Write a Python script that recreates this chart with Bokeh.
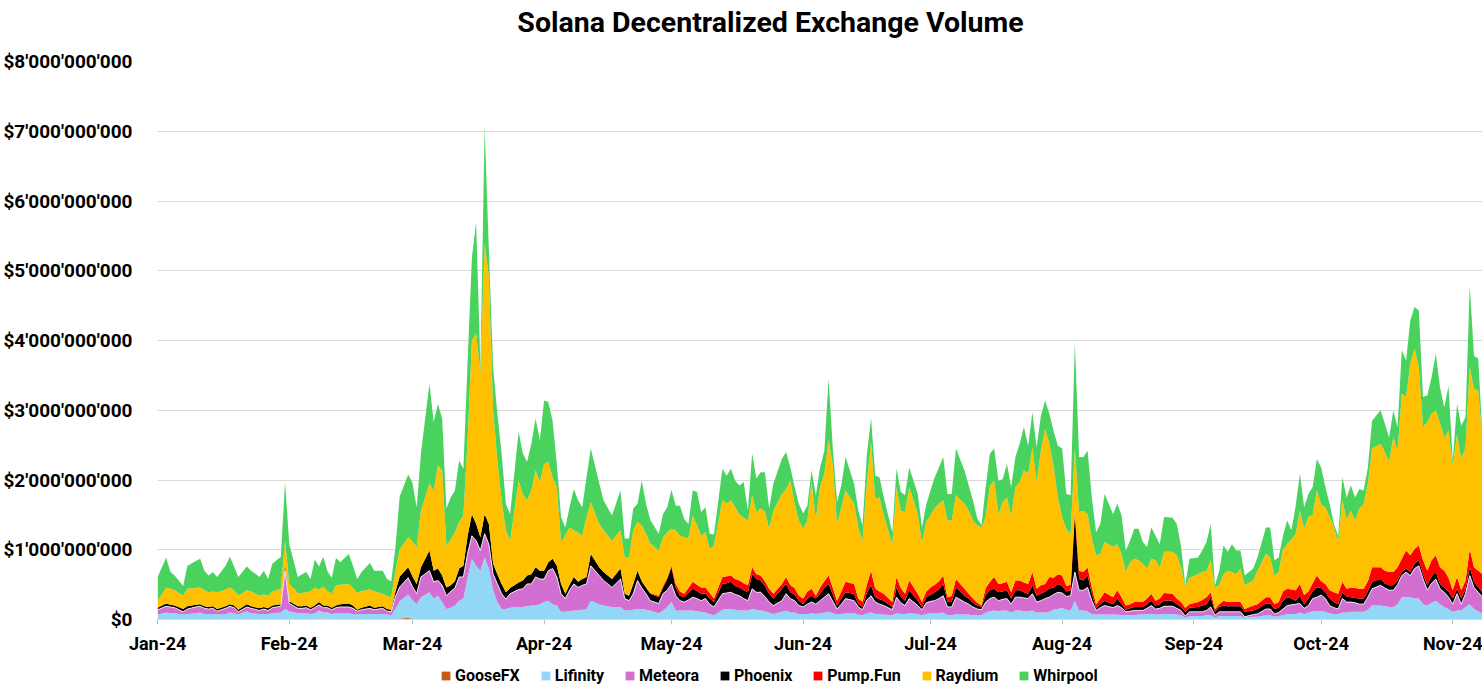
from datetime import datetime, timedelta
from bokeh.plotting import figure
from bokeh.layouts import column
from bokeh.models import (ColumnDataSource, Range1d, Legend, LegendItem, CustomJSTickFormatter,
                          DatetimeTickFormatter, FixedTicker, Label)
from bokeh.transform import stack
from bokeh.embed import file_html
from bokeh.resources import INLINE

TITLE = "Solana Decentralized Exchange Volume"
series_names = ["GooseFX", "Lifinity", "Meteora", "Phoenix", "Pump.Fun", "Raydium", "Whirpool"]
series_keys = ["goosefx", "lifinity", "meteora", "phoenix", "pumpfun", "raydium", "whirpool"]
series_colors = ["#C55A11", "#92D8F6", "#D36FD1", "#000000", "#FF0000", "#FFC000", "#4AD25E"]
y_ticks_bn = [0, 1, 2, 3, 4, 5, 6, 7, 8]
x_tick_months = [1, 2, 3, 4, 5, 6, 7, 8, 9, 10, 11]

# day offset from 2024-01-01
day = [0, 2, 3, 4, 6, 7, 9, 10, 11, 12,
       13, 14, 16, 17, 18, 19, 21, 22, 24, 25,
       26, 27, 29, 30, 31, 33, 34, 35, 36, 37,
       38, 39, 40, 41, 42, 43, 45, 46, 47, 48,
       50, 51, 53, 54, 55, 56, 57, 59, 60, 61,
       62, 64, 65, 66, 67, 68, 69, 70, 71, 72,
       73, 74, 75, 76, 77, 78, 79, 80, 81, 82,
       83, 85, 86, 87, 88, 89, 90, 91, 92, 93,
       94, 95, 96, 97, 98, 99, 100, 101, 102, 104,
       105, 107, 109, 110, 111, 112, 113, 114, 115, 116,
       118, 119, 120, 121, 122, 123, 124, 125, 126, 127,
       128, 129, 130, 131, 133, 134, 135, 136, 137, 138,
       139, 140, 141, 142, 143, 144, 145, 147, 148, 149,
       150, 151, 152, 153, 154, 155, 156, 157, 158, 159,
       160, 161, 162, 164, 165, 166, 167, 168, 169, 170,
       171, 173, 174, 175, 176, 177, 179, 180, 181, 182,
       183, 184, 185, 186, 187, 188, 190, 191, 192, 193,
       194, 195, 196, 197, 198, 199, 200, 201, 202, 203,
       204, 205, 206, 207, 208, 209, 210, 211, 212, 213,
       214, 215, 216, 217, 218, 219, 220, 221, 222, 223,
       225, 226, 227, 228, 229, 230, 231, 232, 233, 234,
       235, 236, 237, 239, 240, 241, 242, 243, 245, 246,
       247, 248, 249, 250, 251, 252, 253, 254, 255, 256,
       258, 259, 261, 262, 263, 264, 265, 266, 267, 268,
       269, 270, 271, 272, 273, 274, 275, 276, 277, 278,
       279, 280, 281, 282, 283, 284, 285, 286, 288, 289,
       290, 291, 292, 293, 294, 295, 296, 297, 298, 299,
       300, 301, 302, 303, 304, 305, 306, 307, 308, 309,
       310, 311, 312]

# daily volumes, billions of USD
goosefx = [0, 0, 0, 0, 0, 0, 0, 0, 0, 0,
           0, 0, 0, 0, 0, 0, 0, 0, 0, 0,
           0, 0, 0, 0, 0, 0, 0, 0, 0, 0,
           .01, .01, .01, 0, 0, 0, 0, 0, 0, 0,
           0, 0, 0, 0, 0, 0, .015, .02, .01, 0,
           0, 0, 0, 0, 0, 0, 0, 0, 0, 0,
           0, 0, 0, 0, 0, 0, 0, 0, 0, 0,
           0, 0, 0, 0, 0, 0, 0, 0, 0, 0,
           0, 0, 0, 0, 0, 0, 0, 0, 0, 0,
           0, 0, 0, 0, 0, 0, 0, 0, 0, 0,
           0, 0, 0, 0, 0, 0, 0, 0, 0, 0,
           0, 0, 0, 0, 0, 0, 0, 0, 0, 0,
           0, 0, 0, 0, 0, 0, 0, 0, 0, 0,
           0, 0, 0, 0, 0, 0, 0, 0, 0, 0,
           0, 0, 0, 0, 0, 0, 0, 0, 0, 0,
           0, 0, 0, 0, 0, 0, 0, 0, 0, 0,
           0, 0, 0, 0, 0, 0, 0, 0, 0, 0,
           0, 0, 0, 0, 0, 0, 0, 0, 0, 0,
           0, 0, 0, 0, 0, 0, 0, 0, 0, 0,
           0, 0, 0, 0, 0, 0, 0, 0, 0, 0,
           0, 0, 0, 0, 0, 0, 0, 0, 0, 0,
           0, 0, 0, 0, 0, 0, 0, 0, 0, 0,
           0, 0, 0, 0, 0, 0, 0, 0, 0, 0,
           0, 0, 0, 0, 0, 0, 0, 0, 0, 0,
           0, 0, 0, 0, 0, 0, 0, 0, 0, 0,
           0, 0, 0, 0, 0, 0, 0, 0, 0, 0,
           0, 0, 0, 0, 0, 0, 0, 0, 0, 0,
           0, 0, 0, 0, 0, 0, 0, 0, 0, 0,
           0, 0, 0]

lifinity = [.07, .10, .09, .09, .07, .08, .09, .10, .08, .08,
            .08, .07, .08, .10, .09, .07, .12, .09, .08, .08,
            .08, .09, .10, .15, .12, .09, .09, .09, .08, .09,
            .12, .09, .09, .08, .09, .09, .09, .08, .07, .08,
            .08, .08, .08, .07, .06, .15, .25, .34, .27, .22,
            .32, .39, .30, .34, .25, .15, .17, .20, .27, .30,
            .60, .87, .77, .70, .89, .73, .42, .25, .15, .15,
            .17, .18, .18, .19, .20, .20, .22, .25, .27, .22,
            .20, .11, .11, .12, .13, .13, .14, .15, .27, .22,
            .20, .18, .18, .13, .13, .14, .15, .15, .14, .13,
            .09, .13, .18, .25, .13, .13, .13, .13, .13, .12,
            .11, .10, .08, .06, .14, .15, .15, .14, .13, .13,
            .13, .15, .14, .13, .12, .10, .08, .11, .13, .10,
            .10, .08, .08, .08, .09, .08, .09, .10, .11, .09,
            .07, .08, .09, .09, .07, .06, .09, .10, .08, .08,
            .07, .06, .09, .08, .08, .09, .08, .06, .08, .09,
            .09, .09, .10, .06, .06, .08, .07, .07, .06, .06,
            .06, .10, .12, .13, .12, .13, .13, .10, .13, .13,
            .12, .12, .13, .10, .10, .10, .11, .14, .15, .17,
            .14, .13, .27, .13, .13, .12, .08, .07, .07, .07,
            .07, .07, .06, .06, .06, .06, .07, .07, .08, .08,
            .07, .07, .08, .08, .07, .06, .03, .05, .05, .05,
            .06, .06, .03, .05, .05, .05, .05, .05, .05, .03,
            .04, .04, .06, .06, .04, .05, .06, .08, .08, .08,
            .10, .08, .10, .12, .12, .12, .11, .09, .08, .08,
            .10, .10, .11, .11, .11, .11, .14, .20, .20, .19,
            .18, .18, .22, .32, .32, .32, .30, .30, .22, .20,
            .24, .27, .22, .18, .15, .11, .13, .13, .18, .22,
            .15, .12, .08]

meteora = [.07, .09, .09, .08, .04, .07, .09, .09, .08, .07,
           .08, .05, .08, .09, .08, .04, .06, .07, .05, .07,
           .05, .08, .09, .55, .11, .07, .07, .08, .06, .08,
           .08, .07, .07, .06, .08, .09, .09, .08, .05, .06,
           .08, .06, .08, .05, .05, .18, .20, .24, .19, .15,
           .29, .31, .24, .22, .24, .19, .23, .25, .34, .31,
           .35, .33, .36, .29, .34, .35, .23, .26, .22, .14,
           .20, .25, .26, .32, .31, .41, .36, .33, .43, .51,
           .41, .26, .19, .30, .38, .33, .35, .36, .50, .41,
           .36, .28, .40, .17, .14, .23, .41, .30, .23, .14,
           .14, .24, .24, .26, .21, .14, .12, .15, .19, .18,
           .16, .20, .14, .12, .23, .23, .24, .22, .21, .17,
           .14, .29, .25, .26, .21, .15, .12, .16, .24, .20,
           .17, .12, .10, .14, .16, .14, .18, .22, .26, .17,
           .08, .14, .21, .18, .11, .08, .19, .24, .17, .14,
           .13, .08, .23, .16, .12, .21, .12, .08, .16, .17,
           .18, .21, .24, .12, .12, .24, .18, .15, .12, .09,
           .08, .15, .18, .19, .15, .16, .17, .12, .19, .19,
           .19, .18, .24, .15, .17, .20, .21, .22, .24, .21,
           .19, .21, .41, .29, .29, .34, .19, .06, .10, .13,
           .10, .13, .11, .05, .06, .07, .06, .06, .08, .12,
           .08, .09, .11, .11, .09, .07, .02, .06, .06, .06,
           .07, .12, .03, .06, .06, .06, .06, .06, .06, .01,
           .03, .04, .09, .09, .04, .05, .09, .12, .13, .14,
           .13, .08, .10, .18, .20, .23, .19, .11, .09, .07,
           .20, .15, .14, .13, .11, .11, .18, .24, .29, .26,
           .24, .24, .28, .31, .36, .31, .43, .47, .36, .22,
           .28, .31, .22, .21, .17, .11, .24, .09, .19, .41,
           .31, .27, .24]

phoenix = [.03, .04, .03, .03, .04, .04, .03, .03, .03, .03,
           .03, .03, .03, .03, .03, .03, .04, .03, .03, .03,
           .03, .03, .03, .06, .03, .03, .03, .03, .03, .03,
           .04, .03, .03, .03, .03, .04, .05, .04, .02, .03,
           .04, .03, .03, .03, .03, .07, .15, .15, .15, .14,
           .14, .29, .16, .17, .14, .12, .09, .10, .12, .16,
           .25, .31, .24, .19, .28, .29, .15, .14, .14, .10,
           .08, .10, .12, .12, .14, .14, .12, .12, .12, .14,
           .16, .14, .07, .08, .10, .08, .09, .10, .17, .12,
           .12, .12, .15, .07, .07, .14, .14, .10, .09, .10,
           .09, .08, .16, .24, .12, .07, .07, .10, .12, .11,
           .10, .07, .08, .07, .14, .14, .15, .12, .12, .12,
           .12, .21, .19, .17, .15, .12, .10, .17, .14, .09,
           .09, .07, .04, .08, .09, .08, .10, .13, .14, .10,
           .05, .08, .09, .10, .04, .04, .10, .15, .07, .07,
           .07, .04, .14, .09, .07, .12, .07, .04, .08, .09,
           .12, .13, .17, .07, .07, .14, .09, .08, .06, .05,
           .04, .10, .12, .12, .12, .11, .12, .08, .10, .10,
           .08, .07, .12, .09, .10, .10, .12, .10, .12, .10,
           .07, .08, .83, .16, .14, .17, .10, .04, .05, .07,
           .05, .10, .05, .03, .04, .05, .05, .05, .06, .07,
           .05, .06, .08, .08, .06, .05, .06, .06, .07, .09,
           .09, .14, .05, .07, .09, .08, .08, .08, .08, .07,
           .06, .07, .08, .08, .07, .07, .12, .12, .09, .05,
           .11, .06, .10, .10, .14, .10, .09, .10, .08, .07,
           .09, .08, .07, .07, .08, .08, .08, .10, .09, .07,
           .07, .07, .06, .05, .05, .05, .07, .08, .07, .07,
           .10, .10, .07, .07, .08, .08, .07, .08, .07, .12,
           .08, .07, .07]

pumpfun = [0, 0, 0, 0, 0, 0, 0, 0, 0, 0,
           0, 0, 0, 0, 0, 0, 0, 0, 0, 0,
           0, 0, 0, .04, 0, 0, 0, 0, 0, 0,
           0, 0, 0, 0, 0, 0, 0, 0, 0, 0,
           0, 0, 0, 0, 0, 0, 0, 0, 0, 0,
           0, 0, 0, 0, 0, 0, 0, 0, 0, 0,
           0, 0, 0, 0, 0, 0, 0, 0, 0, 0,
           0, 0, 0, 0, 0, 0, 0, 0, 0, 0,
           0, 0, 0, 0, 0, 0, 0, 0, 0, 0,
           0, 0, 0, 0, 0, 0, 0, 0, 0, .01,
           .02, .03, .02, .02, .05, .06, .05, .07, .10, .09,
           .09, .09, .08, .05, .10, .10, .09, .10, .10, .10,
           .10, .10, .07, .07, .07, .07, .07, .07, .10, .10,
           .09, .07, .08, .10, .10, .04, .09, .10, .12, .09,
           .07, .10, .15, .14, .08, .07, .12, .21, .12, .11,
           .10, .07, .15, .12, .10, .14, .10, .07, .08, .11,
           .11, .12, .12, .07, .09, .12, .10, .07, .06, .04,
           .02, .10, .12, .17, .12, .12, .12, .09, .14, .14,
           .14, .14, .19, .10, .12, .11, .17, .14, .14, .15,
           .08, .08, .03, .12, .12, .12, .09, .05, .08, .12,
           .10, .12, .10, .06, .06, .07, .07, .07, .08, .10,
           .07, .08, .11, .10, .08, .07, .06, .05, .07, .08,
           .10, .07, .04, .04, .07, .06, .06, .06, .06, .04,
           .07, .07, .09, .09, .07, .08, .13, .12, .13, .15,
           .17, .13, .10, .12, .17, .10, .12, .12, .14, .15,
           .15, .11, .14, .14, .14, .14, .15, .21, .17, .18,
           .19, .19, .19, .19, .26, .24, .21, .21, .20, .21,
           .23, .24, .24, .24, .20, .12, .17, .12, .12, .26,
           .21, .24, .26]

raydium = [.10, .23, .23, .22, .19, .25, .24, .24, .23, .21,
           .21, .24, .24, .24, .22, .20, .20, .21, .18, .18,
           .18, .20, .22, .33, .25, .19, .19, .19, .23, .26,
           .18, .27, .21, .20, .29, .28, .28, .25, .24, .24,
           .23, .23, .18, .19, .18, .30, .39, .43, .50, .53,
           .81, .96, 1.15, 1.48, 1.51, .60, .66, .70, .67, .72,
           1.40, 2.49, 2.73, 2.37, 3.88, 3.54, 2.20, 1.63, 1.20, .89,
           .68, 1.46, 1.24, 1.08, 1.20, 1.39, 1.27, 1.53, 1.44, 1.17,
           1.13, .60, .83, .82, .67, .71, .62, .86, .74, .62,
           .60, .55, .55, .52, .55, .77, .70, .80, .77, .71,
           .65, .70, .65, .53, .77, .80, .81, .71, .95, .85,
           .74, .79, .63, .76, 1.10, 1.04, 1.08, 1.03, .95, .94,
           .93, 1.03, .89, .96, 1.00, .86, 1.19, 1.29, 1.26, 1.50,
           1.21, 1.08, 1.00, 1.02, 1.53, 1.10, 1.44, 1.54, 1.94, 1.76,
           1.10, 1.21, 1.31, 1.15, 1.02, .88, 1.45, 1.84, 1.29, 1.35,
           1.12, .83, 1.29, 1.11, 1.17, 1.34, 1.14, .85, 1.00, 1.03,
           1.10, 1.11, 1.08, 1.10, 1.08, 1.20, 1.22, 1.19, 1.12, 1.11,
           1.12, 1.02, 1.38, 1.38, 1.00, 1.16, 1.21, 1.10, 1.34, 1.41,
           1.61, 1.58, 1.79, 1.53, 1.93, 2.22, 1.91, 1.60, 1.10, .84,
           .82, .73, .91, .84, .88, .76, .70, .70, .64, .72,
           .72, .66, .62, .48, .60, .62, .60, .55, .43, .50,
           .58, .45, .59, .60, .62, .50, .30, .38, .40, .40,
           .38, .46, .31, .27, .38, .45, .43, .40, .48, .34,
           .36, .48, .62, .57, .41, .43, .60, .64, .72, .81,
           1.05, .95, 1.07, .98, 1.22, 1.10, 1.10, 1.05, .93, .75,
           1.17, 1.00, 1.10, .97, 1.15, 1.21, 1.40, 1.70, 1.77, 1.70,
           1.58, 1.93, 1.67, 2.37, 2.20, 2.75, 2.87, 2.56, 1.91, 2.13,
           2.10, 2.08, 2.06, 1.91, 2.11, 1.78, 2.05, 1.88, 1.91, 2.61,
           2.56, 2.58, 1.90]

whirpool = [.34, .43, .24, .21, .14, .33, .39, .41, .28, .24,
            .28, .22, .34, .44, .34, .27, .34, .30, .27, .34,
            .24, .40, .46, .84, .57, .23, .27, .29, .18, .40,
            .33, .43, .28, .23, .39, .32, .43, .32, .20, .27,
            .38, .30, .33, .24, .23, .34, .76, .90, .84, .57,
            .82, 1.43, .98, .88, .74, .53, .60, .60, .88, .67,
            1.11, 1.19, 1.60, .07, 1.67, .38, .62, .67, .67, .38,
            .38, .70, .58, .55, .67, .74, .60, .91, .86, .81,
            .33, .36, .12, .29, .59, .46, .41, .57, .77, .58,
            .43, .36, .57, .27, .27, .31, .26, .64, .43, .34,
            .24, .33, .36, .56, .35, .43, .26, .21, .36, .48,
            .34, .36, .22, .16, .45, .40, .45, .38, .41, .51,
            .14, .60, .48, .52, .56, .29, .39, .50, .53, .19,
            .24, .24, .22, .21, .17, .34, .28, .33, .88, .24,
            .31, .31, .48, .29, .24, .22, .40, .35, .33, .29,
            .26, .17, .26, .27, .24, .28, .29, .22, .25, .36,
            .44, .52, .62, .38, .38, .67, .48, .36, .29, .10,
            .03, .43, .46, .46, .48, .33, .48, .41, .43, .55,
            .62, .40, .50, .50, .50, .41, .43, .50, .74, .98,
            .50, .55, 1.53, .79, .77, .91, .59, .33, .43, .69,
            .47, .58, .55, .31, .31, .43, .45, .31, .31, .45,
            .35, .33, .50, .49, .45, .30, .03, .27, .24, .31,
            .41, .52, .03, .21, .41, .27, .40, .34, .26, .14,
            .17, .19, .38, .43, .22, .21, .20, .34, .13, .40,
            .53, .31, .33, .40, .45, .53, .29, .19, .05, .08,
            .33, .31, .36, .33, .28, .20, .23, .40, .48, .41,
            .35, .39, .34, .62, .52, .62, .60, .81, .43, .38,
            .52, .81, .52, .43, .64, .08, .43, .48, .43, 1.17,
            .47, .46, .06]

BN = 1e9
start = datetime(2024, 1, 1)
data = {"date": [start + timedelta(days=d) for d in day]}
for k, vals in zip(series_keys, [goosefx, lifinity, meteora, phoenix, pumpfun, raydium, whirpool]):
    assert len(vals) == len(day), (k, len(vals), len(day))
    data[k] = [v * BN for v in vals]
source = ColumnDataSource(data)

FONT = "Roboto"
W = 1482
FRAME_LEFT = 155   # frames of the stacked figures are aligned on this edge

# ---------------- title strip ----------------
head = figure(width=W, height=40, output_backend="svg", toolbar_location=None,
              x_axis_location=None, y_axis_location=None, min_border=0,
              x_range=Range1d(0, 1), y_range=Range1d(0, 1))
head.outline_line_color = None
head.grid.visible = False
head.add_layout(Label(x=768 - FRAME_LEFT, y=18, x_units="screen", y_units="screen", text=TITLE,
                      text_align="center", text_baseline="middle", text_font=FONT,
                      text_font_style="bold", text_font_size="28.5px", text_color="black"))

# ---------------- main chart ----------------
fig = figure(width=W, height=620, x_axis_type="datetime",
             x_range=Range1d(start - timedelta(hours=1), start + timedelta(days=312)),
             y_range=Range1d(0, 8 * BN),
             output_backend="svg", toolbar_location=None,
             min_border_left=FRAME_LEFT, min_border_right=0, min_border_top=21, min_border_bottom=41)
fig.outline_line_color = None
fig.background_fill_color = "white"
fig.border_fill_color = "white"

renderers = fig.varea_stack(stackers=series_keys, x="date", color=series_colors, source=source)
fig.line(x="date", y=stack("goosefx", "lifinity", "meteora"), source=source,
         line_color="white", line_width=1, line_alpha=0.85)

month_ticks = [datetime(2024, m, 1).timestamp() * 1000 for m in x_tick_months]
fig.xaxis.ticker = FixedTicker(ticks=month_ticks)
fig.xaxis.formatter = DatetimeTickFormatter(months="%b-%y", days="%b-%y", years="%b-%y",
                                            hours="%b-%y", hourmin="%b-%y")
fig.xaxis.axis_line_color = "#D9D9D9"
fig.xaxis.major_tick_line_color = "#BFBFBF"
fig.xaxis.major_tick_out = 5
fig.xaxis.major_tick_in = 0
fig.xaxis.minor_tick_line_color = None
fig.xaxis.major_label_standoff = 8
fig.xaxis.major_label_text_font = FONT
fig.xaxis.major_label_text_font_style = "bold"
fig.xaxis.major_label_text_font_size = "18px"
fig.xaxis.major_label_text_color = "black"

fig.yaxis.ticker = FixedTicker(ticks=[t * BN for t in y_ticks_bn])
fig.yaxis.formatter = CustomJSTickFormatter(code=r"""
if (tick == 0) { return "$0"; }
return "$" + Math.round(tick).toString().replace(/\B(?=(\d{3})+(?!\d))/g, "'");
""")
fig.yaxis.axis_line_color = None
fig.yaxis.major_tick_line_color = None
fig.yaxis.minor_tick_line_color = None
fig.yaxis.major_label_standoff = 19
fig.yaxis.major_label_text_font = FONT
fig.yaxis.major_label_text_font_style = "bold"
fig.yaxis.major_label_text_font_size = "19px"
fig.yaxis.major_label_text_color = "black"

fig.xgrid.grid_line_color = None
fig.ygrid.grid_line_color = "#D9D9D9"
fig.ygrid.grid_line_width = 1

# ---------------- legend strip ----------------
# the same stacked series, drawn on ranges that keep them out of view; only their legend swatches show
leg = figure(width=W, height=25, output_backend="svg", toolbar_location=None,
             x_axis_location=None, y_axis_location=None, min_border=0,
             x_range=Range1d(0, 1), y_range=Range1d(0, 1))
leg.outline_line_color = None
leg.grid.visible = False
leg_renderers = leg.varea_stack(stackers=series_keys, x="date", color=series_colors, source=source)
items = [LegendItem(label=n, renderers=[r]) for n, r in zip(series_names, leg_renderers)]
legend = Legend(items=items, orientation="horizontal", location=(438 - FRAME_LEFT, 0),
                glyph_width=11, glyph_height=11, label_standoff=4, spacing=20,
                padding=2, margin=0, label_height=16,
                label_text_font=FONT, label_text_font_style="bold", label_text_font_size="16px",
                label_text_color="black", border_line_color=None, background_fill_alpha=0)
leg.add_layout(legend)

p = column(head, fig, leg, spacing=0)

open("out.html", "w").write(file_html(p, INLINE))
